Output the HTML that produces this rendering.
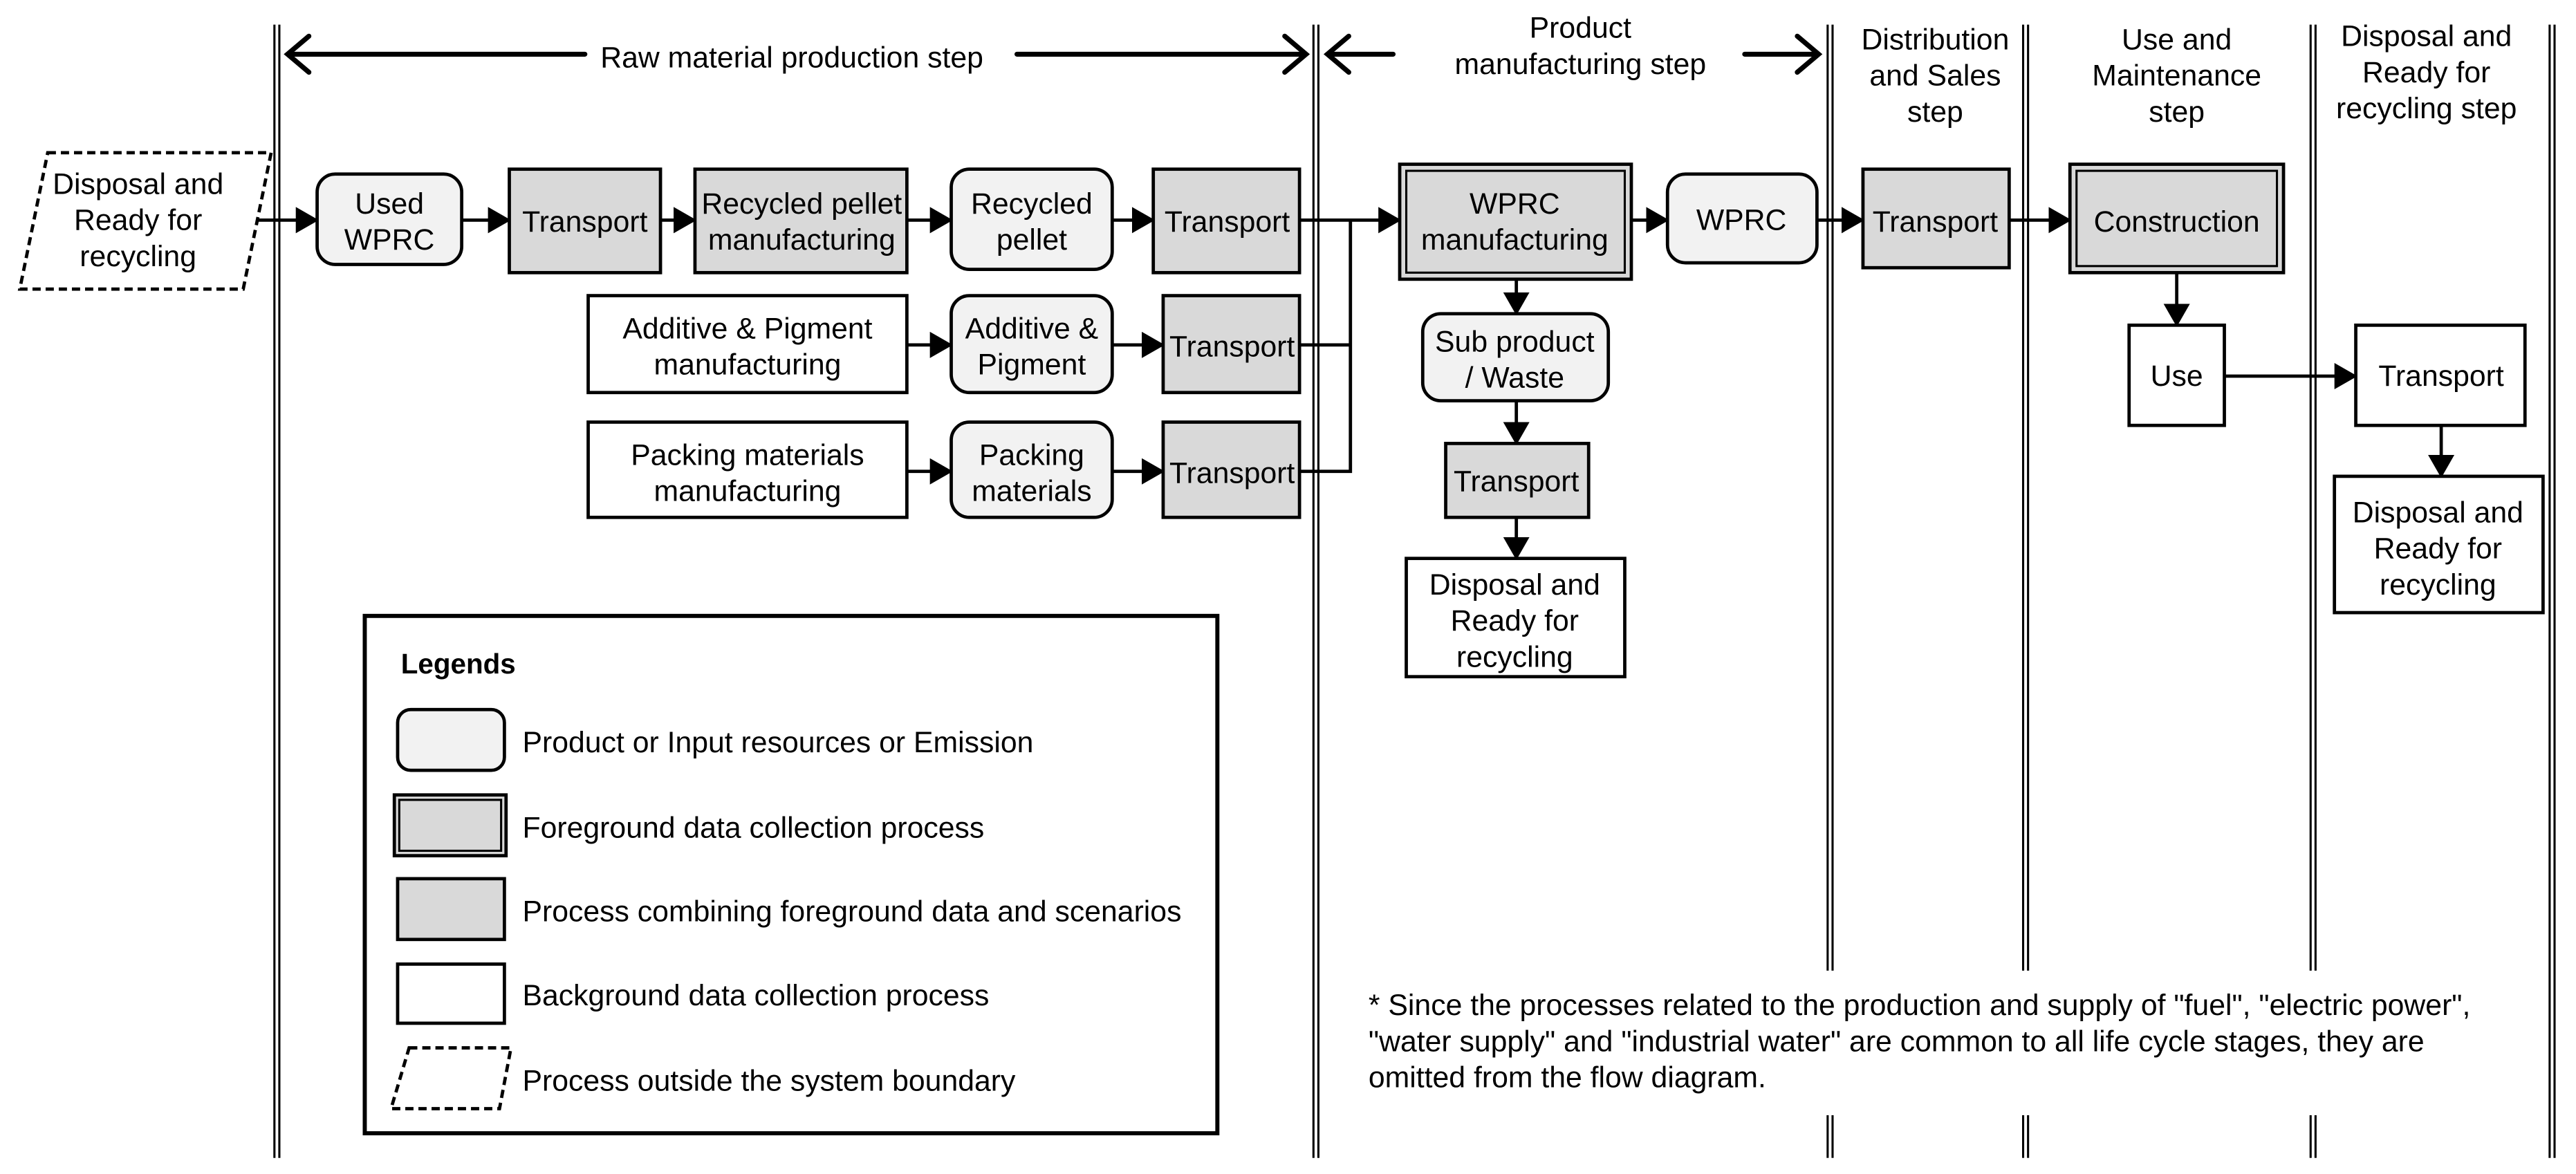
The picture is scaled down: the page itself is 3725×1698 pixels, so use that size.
<!DOCTYPE html>
<html><head><meta charset="utf-8">
<style>
html,body{margin:0;padding:0;background:#fff;}
svg{display:block;}
text{font-family:"Liberation Sans",Arial,sans-serif;font-size:18px;fill:#000;}
.c{text-anchor:middle;}
</style></head>
<body>
<svg width="3725" height="1698" viewBox="0 0 1568 714.8" xmlns="http://www.w3.org/2000/svg">
<defs>
<marker id="a" markerWidth="14" markerHeight="16" refX="13" refY="8" orient="auto" markerUnits="userSpaceOnUse">
<path d="M0,0 L14,8 L0,16 Z" fill="#000"/>
</marker>
</defs>
<rect width="1568" height="715" fill="#fff"/>

<g stroke="#000" stroke-width="1.3">
<line x1="167" y1="15" x2="167" y2="705"/><line x1="170" y1="15" x2="170" y2="705"/>
<line x1="799.5" y1="15" x2="799.5" y2="705"/><line x1="802.5" y1="15" x2="802.5" y2="705"/>
<line x1="1112.5" y1="15" x2="1112.5" y2="591"/><line x1="1115.5" y1="15" x2="1115.5" y2="591"/>
<line x1="1112.5" y1="679" x2="1112.5" y2="705"/><line x1="1115.5" y1="679" x2="1115.5" y2="705"/>
<line x1="1231.5" y1="15" x2="1231.5" y2="591"/><line x1="1234.5" y1="15" x2="1234.5" y2="591"/>
<line x1="1231.5" y1="679" x2="1231.5" y2="705"/><line x1="1234.5" y1="679" x2="1234.5" y2="705"/>
<line x1="1406.5" y1="15" x2="1406.5" y2="591"/><line x1="1409.5" y1="15" x2="1409.5" y2="591"/>
<line x1="1406.5" y1="679" x2="1406.5" y2="705"/><line x1="1409.5" y1="679" x2="1409.5" y2="705"/>
<line x1="1552" y1="15" x2="1552" y2="705"/><line x1="1555" y1="15" x2="1555" y2="705"/>
</g>

<g stroke="#000" stroke-width="3" fill="none" stroke-linecap="round">
<line x1="176" y1="33" x2="356" y2="33"/><polyline points="188,22 175,33 188,44"/>
<line x1="619" y1="33" x2="794" y2="33"/><polyline points="782,22 795,33 782,44"/>
<line x1="809" y1="33" x2="848" y2="33"/><polyline points="821,22 808,33 821,44"/>
<line x1="1062" y1="33" x2="1106" y2="33"/><polyline points="1094,22 1107,33 1094,44"/>
</g>
<text x="482" y="41" class="c">Raw material production step</text>
<text x="962" y="23" class="c">Product</text>
<text x="962" y="45" class="c">manufacturing step</text>
<text x="1178" y="30" class="c">Distribution</text>
<text x="1178" y="52" class="c">and Sales</text>
<text x="1178" y="74" class="c">step</text>
<text x="1325" y="30" class="c">Use  and</text>
<text x="1325" y="52" class="c">Maintenance</text>
<text x="1325" y="74" class="c">step</text>
<text x="1477" y="28" class="c">Disposal and</text>
<text x="1477" y="50" class="c">Ready for</text>
<text x="1477" y="72" class="c">recycling step</text>

<g stroke="#000" stroke-width="2" fill="none">
<line x1="146" y1="134" x2="193" y2="134" marker-end="url(#a)"/>
<line x1="281" y1="134" x2="310" y2="134" marker-end="url(#a)"/>
<line x1="402" y1="134" x2="423" y2="134" marker-end="url(#a)"/>
<line x1="552" y1="134" x2="579" y2="134" marker-end="url(#a)"/>
<line x1="677" y1="134" x2="702" y2="134" marker-end="url(#a)"/>
<line x1="552" y1="210" x2="579" y2="210" marker-end="url(#a)"/>
<line x1="677" y1="210" x2="708" y2="210" marker-end="url(#a)"/>
<line x1="552" y1="287" x2="579" y2="287" marker-end="url(#a)"/>
<line x1="677" y1="287" x2="708" y2="287" marker-end="url(#a)"/>
<polyline points="791,134 852,134" marker-end="url(#a)"/>
<polyline points="791,210 822,210"/>
<polyline points="791,287 822,287 822,134"/>
<line x1="993" y1="134" x2="1015" y2="134" marker-end="url(#a)"/>
<line x1="1106" y1="134" x2="1134" y2="134" marker-end="url(#a)"/>
<line x1="1223" y1="134" x2="1260" y2="134" marker-end="url(#a)"/>
<line x1="923" y1="170" x2="923" y2="191" marker-end="url(#a)"/>
<line x1="923" y1="244" x2="923" y2="270" marker-end="url(#a)"/>
<line x1="923" y1="315" x2="923" y2="340" marker-end="url(#a)"/>
<line x1="1325" y1="166" x2="1325" y2="198" marker-end="url(#a)"/>
<line x1="1354" y1="229" x2="1434" y2="229" marker-end="url(#a)"/>
<line x1="1486" y1="259" x2="1486" y2="290" marker-end="url(#a)"/>
</g>

<g stroke="#000" stroke-width="2">
<polygon points="29,93 165,93 148,176 12,176" fill="#fff" stroke-dasharray="5,3"/>
<rect x="193" y="106" width="88" height="55" rx="11" fill="#f2f2f2"/>
<rect x="310" y="103" width="92" height="63" fill="#d9d9d9"/>
<rect x="423" y="103" width="129" height="63" fill="#d9d9d9"/>
<rect x="579" y="103" width="98" height="61" rx="11" fill="#f2f2f2"/>
<rect x="702" y="103" width="89" height="63" fill="#d9d9d9"/>
<rect x="358" y="180" width="194" height="59" fill="#fff"/>
<rect x="579" y="180" width="98" height="59" rx="11" fill="#f2f2f2"/>
<rect x="708" y="180" width="83" height="59" fill="#d9d9d9"/>
<rect x="358" y="257" width="194" height="58" fill="#fff"/>
<rect x="579" y="257" width="98" height="58" rx="11" fill="#f2f2f2"/>
<rect x="708" y="257" width="83" height="58" fill="#d9d9d9"/>
<rect x="852" y="100" width="141" height="70" fill="#d9d9d9"/>
<rect x="856" y="104" width="133" height="62" fill="none" stroke-width="1.3"/>
<rect x="1015" y="106" width="91" height="54" rx="11" fill="#f2f2f2"/>
<rect x="1134" y="103" width="89" height="60" fill="#d9d9d9"/>
<rect x="1260" y="100" width="130" height="66" fill="#d9d9d9"/>
<rect x="1264" y="104" width="122" height="58" fill="none" stroke-width="1.3"/>
<rect x="866" y="191" width="113" height="53" rx="11" fill="#f2f2f2"/>
<rect x="880" y="270" width="87" height="45" fill="#d9d9d9"/>
<rect x="856" y="340" width="133" height="72" fill="#fff"/>
<rect x="1296" y="198" width="58" height="61" fill="#fff"/>
<rect x="1434" y="198" width="103" height="61" fill="#fff"/>
<rect x="1421" y="290" width="127" height="83" fill="#fff"/>
</g>

<text x="84" y="118" class="c">Disposal and</text>
<text x="84" y="140" class="c">Ready for</text>
<text x="84" y="162" class="c">recycling</text>
<text x="237" y="130" class="c">Used</text><text x="237" y="152" class="c">WPRC</text>
<text x="356" y="141" class="c">Transport</text>
<text x="488" y="130" class="c">Recycled pellet</text><text x="488" y="152" class="c">manufacturing</text>
<text x="628" y="130" class="c">Recycled</text><text x="628" y="152" class="c">pellet</text>
<text x="747" y="141" class="c">Transport</text>
<text x="455" y="206" class="c">Additive &amp; Pigment</text><text x="455" y="228" class="c">manufacturing</text>
<text x="628" y="206" class="c">Additive &amp;</text><text x="628" y="228" class="c">Pigment</text>
<text x="750" y="217" class="c">Transport</text>
<text x="455" y="283" class="c">Packing materials</text><text x="455" y="305" class="c">manufacturing</text>
<text x="628" y="283" class="c">Packing</text><text x="628" y="305" class="c">materials</text>
<text x="750" y="294" class="c">Transport</text>
<text x="922" y="130" class="c">WPRC</text><text x="922" y="152" class="c">manufacturing</text>
<text x="1060" y="140" class="c">WPRC</text>
<text x="1178" y="141" class="c">Transport</text>
<text x="1325" y="141" class="c">Construction</text>
<text x="922" y="214" class="c">Sub product</text><text x="922" y="236" class="c">/ Waste</text>
<text x="923" y="299" class="c">Transport</text>
<text x="922" y="362" class="c">Disposal and</text><text x="922" y="384" class="c">Ready for</text><text x="922" y="406" class="c">recycling</text>
<text x="1325" y="235" class="c">Use</text>
<text x="1486" y="235" class="c">Transport</text>
<text x="1484" y="318" class="c">Disposal and</text><text x="1484" y="340" class="c">Ready for</text><text x="1484" y="362" class="c">recycling</text>

<rect x="222" y="375" width="519" height="315" fill="#fff" stroke="#000" stroke-width="2.5"/>
<text x="244" y="410" style="font-weight:bold;font-size:17px">Legends</text>
<g stroke="#000" stroke-width="2">
<rect x="242" y="432" width="65" height="37" rx="8" fill="#f2f2f2"/>
<rect x="240" y="484" width="68" height="37" fill="#d9d9d9"/>
<rect x="243" y="487" width="62" height="31" fill="none" stroke-width="1.3"/>
<rect x="242" y="535" width="65" height="37" fill="#d9d9d9"/>
<rect x="242" y="587" width="65" height="36" fill="#fff"/>
<polygon points="249,638 311,638 304,675 238,675" fill="#fff" stroke-dasharray="5,3"/>
</g>
<text x="318" y="458">Product or Input resources or  Emission</text>
<text x="318" y="510">Foreground data collection process</text>
<text x="318" y="561">Process combining foreground data and scenarios</text>
<text x="318" y="612">Background data collection process</text>
<text x="318" y="664">Process outside the system boundary</text>

<text x="833" y="618">* Since the processes related to the production and supply of "fuel", "electric power",</text>
<text x="833" y="640">"water supply" and "industrial water" are common to all life cycle stages, they are</text>
<text x="833" y="662">omitted from the flow diagram.</text>
</svg>
</body></html>
